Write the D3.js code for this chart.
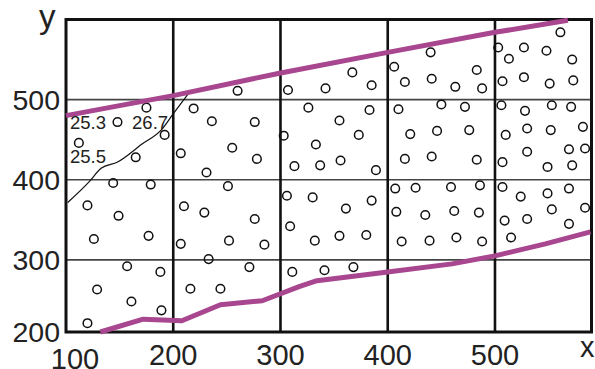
<!DOCTYPE html>
<html><head><meta charset="utf-8">
<script src="https://cdn.jsdelivr.net/npm/d3@7"></script>
<style>html,body{margin:0;padding:0;background:#fff;}svg{display:block;}</style>
</head><body>
<svg id="chart" width="595" height="369"></svg>
<script>
// ---- data ----
const xTickValues = [100, 200, 300, 400, 500];
const yTickValues = [200, 300, 400, 500];
const xDomain = [100, 590];
const yDomain = [210, 600];

const pointX = [175,148,112,192,165,144,179,120,149,126,177,157,188,129,161,189,120,
  260,307,219,236,276,303,207,255,278,231,313,251,210,229,276,207,252,285,306,309,233,271,216,244,311,
  367,342,385,326,383,355,373,333,337,356,389,330,361,385,332,355,380,341,368,
  440,406,416,441,463,483,488,410,450,472,421,446,476,416,441,483,407,426,459,486,408,435,462,485,413,439,464,488,
  561,503,513,527,548,572,507,527,551,573,506,528,553,571,510,530,552,582,530,569,584,507,549,572,507,524,549,569,584,509,530,553,569,515];
const pointY = [490,472,446,456,428,396,394,368,355,326,330,292,285,263,248,237,221,
  511,512,489,473,472,455,433,440,426,409,417,392,367,359,351,320,324,319,380,342,301,291,264,264,285,
  534,514,518,490,487,474,456,444,418,424,412,378,364,374,324,330,331,287,291,
  559,541,522,526,516,537,514,488,494,491,457,461,462,426,429,425,389,390,391,393,360,356,361,359,323,324,328,323,
  584,565,551,565,561,550,523,528,520,524,493,486,493,491,456,464,462,466,435,438,439,422,416,418,391,379,383,389,365,349,351,363,345,328];

const upperX = [100, 200, 299, 400, 500, 568];
const upperY = [480, 505, 533, 559, 584, 599];

const lowerX = [132, 172, 208, 244, 283, 318, 334, 400, 460, 500, 547, 589];
const lowerY = [210, 226, 224, 244, 249, 267, 274, 285, 295, 305, 320, 335];

const contourX = [101.6, 121.7, 132.7, 148.1, 170.9, 189.6, 199.9, 215.7];
const contourY = [371.6, 397.6, 414.3, 422.2, 444.6, 463.3, 482.1, 510.4];

const contourLabels = ["25.3", "26.7", "25.5"];
const contourLabelX = [103.7, 161.6, 103.7];
const contourLabelY = [463, 463, 420.5];

// ---- drawing ----
const svg = d3.select("#chart");
const x = d3.scaleLinear().domain(xDomain).range([66, 591.5]);
const y = d3.scaleLinear().domain(yDomain).range([332, 19.5]);
const font = "'Liberation Sans', Arial, sans-serif";
const magenta = "#a8468f";

// horizontal grid lines
svg.append("g").selectAll("line")
  .data(yTickValues.filter(v => v > yDomain[0]))
  .join("line")
  .attr("x1", x(xDomain[0])).attr("x2", x(xDomain[1]))
  .attr("y1", d => y(d)).attr("y2", d => y(d))
  .attr("stroke", "#444").attr("stroke-width", 1.6);

// vertical grid lines
svg.append("g").selectAll("line")
  .data(xTickValues.filter(v => v > xDomain[0]))
  .join("line")
  .attr("x1", d => x(d)).attr("x2", d => x(d))
  .attr("y1", y(yDomain[0])).attr("y2", y(yDomain[1]))
  .attr("stroke", "#111").attr("stroke-width", 2.6);

// frame
svg.append("rect")
  .attr("x", x(xDomain[0])).attr("y", y(yDomain[1]))
  .attr("width", x(xDomain[1]) - x(xDomain[0]))
  .attr("height", y(yDomain[0]) - y(yDomain[1]))
  .attr("fill", "none").attr("stroke", "#111").attr("stroke-width", 3);

// points
svg.append("g").selectAll("circle")
  .data(pointX.map((v, i) => [v, pointY[i]]))
  .join("circle")
  .attr("cx", d => x(d[0])).attr("cy", d => y(d[1]))
  .attr("r", 4.3)
  .attr("fill", "none").attr("stroke", "#111").attr("stroke-width", 1.5);

// contour line
const line = d3.line().x(d => x(d[0])).y(d => y(d[1]));
const smooth = d3.line().x(d => x(d[0])).y(d => y(d[1])).curve(d3.curveMonotoneX);
svg.append("path")
  .attr("d", smooth(contourX.map((v, i) => [v, contourY[i]])))
  .attr("fill", "none").attr("stroke", "#111").attr("stroke-width", 1.2);

// magenta boundary lines
svg.append("path")
  .attr("d", line(upperX.map((v, i) => [v, upperY[i]])))
  .attr("fill", "none").attr("stroke", magenta).attr("stroke-width", 5);
svg.append("path")
  .attr("d", line(lowerX.map((v, i) => [v, lowerY[i]])))
  .attr("fill", "none").attr("stroke", magenta).attr("stroke-width", 5)
  .attr("stroke-linejoin", "round");

// contour labels
svg.append("g").selectAll("text")
  .data(contourLabels)
  .join("text")
  .attr("x", (d, i) => x(contourLabelX[i]))
  .attr("y", (d, i) => y(contourLabelY[i]))
  .attr("font-family", font).attr("font-size", 18.5).attr("fill", "#222")
  .text(d => d);

// y tick labels
svg.append("g").selectAll("text")
  .data(yTickValues)
  .join("text")
  .attr("x", 60)
  .attr("y", d => y(Math.max(d, yDomain[0])))
  .attr("dy", "0.36em")
  .attr("text-anchor", "end")
  .attr("font-family", font).attr("font-size", 28.5).attr("fill", "#222")
  .text(d => d);

// x tick labels
svg.append("g").selectAll("text")
  .data(xTickValues)
  .join("text")
  .attr("x", (d, i) => x(d) + (i === 0 ? 9 : 0))
  .attr("y", (d, i) => i === 0 ? 368.5 : 365)
  .attr("text-anchor", "middle")
  .attr("font-family", font).attr("font-size", 29).attr("fill", "#222")
  .text(d => d);

// axis titles
svg.append("text").attr("x", 39).attr("y", 28)
  .attr("font-family", font).attr("font-size", 33).attr("fill", "#222").text("y");
svg.append("text").attr("x", 580).attr("y", 356.7)
  .attr("font-family", font).attr("font-size", 29).attr("fill", "#222").text("x");
</script>
</body></html>
